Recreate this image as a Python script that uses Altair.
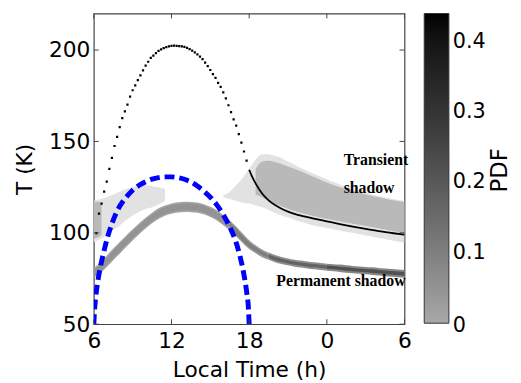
import altair as alt
import pandas as pd

# ---------------- data ----------------
x_ticks = [6, 12, 18, 24, 30]
y_ticks = [50, 100, 150, 200]
pdf_ticks = [0.1, 0.2, 0.3, 0.4]
pdf_zero_label = ["0"]

# permanent-shadow PDF band (centre and half widths, K)
perm_t = [6.0, 6.5, 7.0, 7.5, 8.0, 8.5, 9.0, 9.5, 10.0, 10.5, 11.0, 11.5, 12.0, 12.5, 13.0, 13.5,
          14.0, 14.5, 15.0, 15.5, 16.0, 16.5, 17.0, 17.5, 18.0, 18.5, 19.0, 19.5, 20.0, 20.5, 21.0, 21.5,
          22.0, 22.5, 23.0, 23.5, 24.0, 24.5, 25.0, 25.5, 26.0, 26.5, 27.0, 27.5, 28.0, 28.5, 29.0, 29.5, 30.0]
perm_mid = [78.0, 80.8, 84.4, 88.2, 91.8, 95.4, 98.9, 102.2, 105.3, 108.1, 110.5, 112.2, 113.3, 113.9, 114.2, 114.1,
            113.8, 112.9, 111.4, 109.5, 107.0, 104.1, 100.7, 97.0, 93.5, 91.0, 88.8, 87.2, 85.9, 84.9, 84.1, 83.4,
            82.9, 82.4, 82.0, 81.6, 81.2, 80.9, 80.6, 80.2, 79.9, 79.6, 79.3, 79.0, 78.7, 78.4, 78.1, 77.8, 77.5]
perm_outer_hw = [2.7, 2.9, 3.1, 3.2, 3.2, 3.2, 3.1, 3.0, 3.0, 2.9, 2.9, 2.8, 2.8, 2.8, 2.8, 2.8,
                 2.8, 2.8, 2.8, 2.8, 2.8, 2.8, 2.7, 2.6, 2.4, 2.2, 2.1, 2.0, 2.0, 1.9, 1.9, 1.9,
                 1.9, 1.9, 1.9, 1.9, 1.9, 1.9, 2.0, 2.0, 2.0, 2.0, 2.0, 2.1, 2.1, 2.1, 2.1, 2.1, 2.1]
perm_core_hw = [1.8, 1.9, 2.0, 2.1, 2.1, 2.1, 2.0, 2.0, 2.0, 1.9, 1.9, 1.9, 1.9, 1.9, 1.9, 1.9,
                1.9, 1.9, 1.9, 1.9, 1.9, 1.8, 1.7, 1.6, 1.4, 1.2, 1.1, 1.0, 1.0, 0.9, 0.9, 0.9,
                0.9, 0.9, 0.9, 0.9, 0.9, 0.9, 0.9, 0.9, 0.9, 0.9, 0.9, 1.0, 1.0, 1.0, 1.0, 1.0, 1.0]
perm_seg_start = [6.0, 16.5, 19.5, 24.0]
perm_seg_end = [16.5, 19.5, 24.0, 30.0]
perm_pdf_outer = [0.01, 0.03, 0.06, 0.08]
perm_pdf_core = [0.05, 0.10, 0.17, 0.22]

# transient-shadow PDF: morning block
tm_dense_t = [6.0, 6.3, 6.6]
tm_dense_lo = [97.0, 97.5, 99.0]
tm_dense_hi = [117.0, 117.0, 116.5]
tm_sparse_t = [6.0, 6.5, 7.0, 7.5, 8.0, 8.5, 9.0, 9.5, 10.0, 10.5, 11.0, 11.5]
tm_sparse_lo = [95.0, 96.5, 99.0, 101.5, 104.0, 107.0, 109.5, 111.5, 113.0, 114.0, 115.5, 117.5]
tm_sparse_hi = [117.5, 118.5, 119.5, 121.0, 122.5, 124.0, 125.0, 126.0, 126.0, 125.5, 125.0, 124.0]

# transient-shadow PDF: evening / night
tn_sparse_t = [16.0, 16.5, 17.0, 17.5, 18.0, 18.5, 19.0, 19.5, 20.0, 20.5, 21.0, 21.5, 22.0, 22.5, 23.0,
               23.5, 24.0, 24.5, 25.0, 25.5, 26.0, 26.5, 27.0, 27.5, 28.0, 28.5, 29.0, 29.5, 30.0]
tn_sparse_lo = [119.5, 118.5, 117.5, 116.5, 116.0, 115.0, 114.0, 112.5, 111.0, 109.5, 108.5, 107.0, 106.0, 105.0, 104.0,
                103.3, 102.6, 102.0, 101.3, 100.6, 100.0, 99.3, 98.6, 98.0, 97.3, 96.6, 95.9, 95.2, 94.5]
tn_sparse_hi = [120.5, 122.5, 126.0, 130.0, 135.0, 140.0, 143.0, 143.0, 142.0, 141.0, 139.0, 137.3, 135.5, 133.8, 132.3,
                130.8, 129.3, 127.8, 126.4, 125.1, 124.0, 123.0, 122.0, 121.0, 120.2, 119.4, 118.7, 118.0, 117.5]
tn_dense_t = [18.5, 19.0, 19.5, 20.0, 20.5, 21.0, 21.5, 22.0, 22.5, 23.0, 23.5, 24.0,
              24.5, 25.0, 25.5, 26.0, 26.5, 27.0, 27.5, 28.0, 28.5, 29.0, 29.5, 30.0]
tn_dense_lo = [121.0, 119.5, 117.5, 116.0, 114.5, 113.2, 112.0, 111.0, 110.0, 109.2, 108.4, 107.7,
               107.0, 106.3, 105.6, 105.0, 104.4, 103.8, 103.2, 102.5, 101.8, 101.1, 100.4, 99.7]
tn_dense_hi = [135.0, 139.0, 139.5, 138.8, 137.6, 136.3, 135.0, 133.5, 132.0, 130.5, 129.0, 127.5,
               126.2, 125.0, 124.0, 123.0, 122.0, 121.0, 120.2, 119.4, 118.7, 118.0, 117.4, 117.0]

# sunlit curve (black dots by day, dense line at night)
day_t = [6.2, 6.4, 6.6, 6.8, 7.0, 7.2, 7.4, 7.6, 7.8, 8.0, 8.2, 8.4, 8.6, 8.8, 9.0, 9.2, 9.4, 9.6, 9.8, 10.0,
         10.2, 10.4, 10.6, 10.8, 11.0, 11.2, 11.4, 11.6, 11.8, 12.0, 12.2, 12.4, 12.6, 12.8, 13.0, 13.2, 13.4,
         13.6, 13.8, 14.0, 14.2, 14.4, 14.6, 14.8, 15.0, 15.2, 15.4, 15.6, 15.8, 16.0, 16.2, 16.4, 16.6, 16.8,
         17.0, 17.2, 17.4, 17.6, 17.8]
day_T = [99.8, 110.5, 116.0, 122.5, 128.0, 135.0, 141.0, 147.5, 152.5, 157.8, 162.8, 166.5, 170.2, 174.5, 178.0,
         180.7, 183.6, 186.2, 188.9, 191.5, 193.6, 195.7, 197.0, 198.3, 199.5, 200.4, 201.1, 201.6, 202.0, 202.3,
         202.4, 202.3, 202.2, 202.0, 201.7, 201.2, 200.5, 199.7, 198.7, 197.6, 196.4, 195.0, 193.1, 191.2, 189.1,
         186.8, 184.8, 182.0, 179.9, 176.9, 173.6, 169.8, 166.0, 162.1, 158.6, 154.0, 149.4, 144.5, 139.5]
night_t = [18.0, 18.2, 18.6, 19.0, 19.5, 20.0, 20.5, 21.0, 21.5, 22.0, 22.5, 23.0, 24.0, 25.0, 26.0, 27.0, 28.0, 29.0, 30.0]
night_T = [134.5, 131.2, 125.8, 121.5, 117.8, 115.2, 113.2, 111.6, 110.4, 109.4, 108.6, 107.8, 106.3, 104.8, 103.4,
           102.1, 100.9, 99.9, 99.0]

# blue dashed curve
blue_t = [6.0, 6.05, 6.15, 6.3, 6.5, 6.75, 7.0, 7.5, 8.0, 8.5, 9.0, 9.5, 10.0, 10.5, 11.0, 11.5, 12.0, 12.5,
          13.0, 13.5, 14.0, 14.5, 15.0, 15.5, 16.0, 16.5, 17.0, 17.3, 17.6, 17.8, 17.95, 18.0]
blue_T = [50.0, 57.0, 65.0, 73.0, 81.0, 89.0, 96.0, 107.0, 114.5, 119.5, 123.3, 126.0, 128.0, 129.4, 130.2, 130.6,
          130.6, 130.2, 129.3, 127.8, 125.6, 122.8, 119.5, 115.3, 110.0, 103.2, 94.5, 87.0, 77.0, 68.0, 58.0, 50.0]

ann_text = ["Transient", "shadow", "Permanent shadow"]
ann_t = [25.3, 25.3, 20.1]
ann_T = [136.9, 121.8, 71.0]

# ---------------- tables ----------------
perm_rows = []
for s, e, po, pc, k in zip(perm_seg_start, perm_seg_end, perm_pdf_outer, perm_pdf_core, range(4)):
    for t, m, ho, hc in zip(perm_t, perm_mid, perm_outer_hw, perm_core_hw):
        if s <= t <= e:
            perm_rows.append(dict(t=t, lo=m - ho, hi=m + ho, pdf=po, seg=f"o{k}", layer=0))
            perm_rows.append(dict(t=t, lo=m - hc, hi=m + hc, pdf=pc, seg=f"c{k}", layer=1))
perm_df = pd.DataFrame(perm_rows)

sparse_df = pd.DataFrame(
    [dict(t=t, lo=l, hi=h, seg="m") for t, l, h in zip(tm_sparse_t, tm_sparse_lo, tm_sparse_hi)]
    + [dict(t=t, lo=l, hi=h, seg="n") for t, l, h in zip(tn_sparse_t, tn_sparse_lo, tn_sparse_hi)])
dense_df = pd.DataFrame(
    [dict(t=t, lo=l, hi=h, seg="m") for t, l, h in zip(tm_dense_t, tm_dense_lo, tm_dense_hi)]
    + [dict(t=t, lo=l, hi=h, seg="n") for t, l, h in zip(tn_dense_t, tn_dense_lo, tn_dense_hi)])
day_df = pd.DataFrame({"t": day_t, "T": day_T})
night_df = pd.DataFrame({"t": night_t, "T": night_T})
blue_df = pd.DataFrame({"t": blue_t, "T": blue_T})
ann_df = pd.DataFrame({"t": ann_t, "T": ann_T, "label": ann_text})
xt_df = pd.DataFrame({"v": x_ticks})
yt_df = pd.DataFrame({"v": y_ticks})

# ---------------- scales / axes ----------------
FONT = "DejaVu Sans"
xs = alt.Scale(domain=[6, 30], nice=False, zero=False)
ys = alt.Scale(domain=[50, 220], nice=False, zero=False)
xa = alt.Axis(title="Local Time (h)", values=x_ticks, labelExpr="'' + (datum.value % 24)", ticks=False,
              domain=False, grid=False, labelFlush=False, labelOverlap=False, labelPadding=7,
              labelFontSize=22, titleFontSize=22, titlePadding=8, labelFont=FONT, titleFont=FONT,
              titleFontWeight="normal", labelColor="black", titleColor="black")
ya = alt.Axis(title="T (K)", values=y_ticks, ticks=False, domain=False, grid=False, labelFlush=False,
              labelOverlap=False, labelPadding=4, labelFontSize=22, titleFontSize=22, titlePadding=12,
              labelFont=FONT, titleFont=FONT, titleFontWeight="normal", labelColor="black", titleColor="black")
color = alt.Color("pdf:Q",
                  scale=alt.Scale(domain=[0, 0.44], range=["#a8a8a8", "#000000"]),
                  legend=alt.Legend(orient="none", legendX=335, legendY=0, direction="vertical",
                                    gradientLength=314, gradientThickness=25, title=None, values=pdf_ticks,
                                    labelFontSize=21, labelFont=FONT, labelColor="black", labelOffset=4,
                                    format=".1~f", padding=0,
                                    gradientStrokeColor="#333333", gradientStrokeWidth=1))

X = alt.X("t:Q", scale=xs, axis=xa)

perm_outer = alt.Chart(perm_df[perm_df.layer == 0]).mark_area(interpolate="monotone", clip=True).encode(
    x=X, y=alt.Y("lo:Q", scale=ys, axis=ya), y2="hi:Q", color=color, detail="seg:N")
perm_core = alt.Chart(perm_df[perm_df.layer == 1]).mark_area(interpolate="monotone", clip=True).encode(
    x=X, y=alt.Y("lo:Q", scale=ys, axis=ya), y2="hi:Q", color=color, detail="seg:N")
sparse = alt.Chart(sparse_df).mark_area(interpolate="monotone", clip=True).encode(
    x=X, y=alt.Y("lo:Q", scale=ys, axis=ya), y2="hi:Q", color=alt.value("#e2e2e2"), detail="seg:N")
dense = alt.Chart(dense_df).mark_area(interpolate="monotone", clip=True).encode(
    x=X, y=alt.Y("lo:Q", scale=ys, axis=ya), y2="hi:Q", color=alt.value("#b9b9b9"), detail="seg:N")

dots = alt.Chart(day_df).mark_square(size=5, color="black", opacity=1, clip=True).encode(
    x=X, y=alt.Y("T:Q", scale=ys, axis=ya))
night = alt.Chart(night_df).mark_line(color="black", strokeWidth=1.8, interpolate="monotone", clip=True).encode(
    x=X, y=alt.Y("T:Q", scale=ys, axis=ya))
blue = alt.Chart(blue_df).mark_line(color="#0000ff", strokeWidth=5, strokeDash=[10, 5],
                                    interpolate="monotone", clip=True).encode(
    x=X, y=alt.Y("T:Q", scale=ys, axis=ya))

tick_style = dict(color="#444444", strokeWidth=1)
tb = alt.Chart(xt_df).mark_rule(**tick_style).encode(x=alt.X("v:Q", scale=xs, axis=xa),
                                                     y=alt.value(315), y2=alt.value(310))
tt = alt.Chart(xt_df).mark_rule(**tick_style).encode(x=alt.X("v:Q", scale=xs, axis=xa),
                                                     y=alt.value(0), y2=alt.value(5))
tl = alt.Chart(yt_df).mark_rule(**tick_style).encode(y=alt.Y("v:Q", scale=ys, axis=ya),
                                                     x=alt.value(0), x2=alt.value(5))
tr = alt.Chart(yt_df).mark_rule(**tick_style).encode(y=alt.Y("v:Q", scale=ys, axis=ya),
                                                     x=alt.value(315), x2=alt.value(310))

ann = alt.Chart(ann_df).mark_text(font="Liberation Serif", fontWeight="bold", fontSize=16, align="left",
                                  baseline="alphabetic", color="black").encode(
    x=X, y=alt.Y("T:Q", scale=ys, axis=ya), text="label:N")

pdf_title = alt.Chart(pd.DataFrame({"label": ["PDF"]})).mark_text(
    font=FONT, fontSize=23, angle=270, align="center", baseline="middle", color="black").encode(
    x=alt.value(412), y=alt.value(159), text="label:N")
pdf_zero = alt.Chart(pd.DataFrame({"label": pdf_zero_label})).mark_text(
    font=FONT, fontSize=21, align="left", baseline="middle", color="black").encode(
    x=alt.value(364), y=alt.value(317), text="label:N")

chart = alt.layer(perm_outer, sparse, dense, perm_core, dots, night, blue, tb, tt, tl, tr, ann,
                  pdf_title, pdf_zero).properties(
    width=315, height=315,
    padding={"left": 87, "top": 3, "right": 110, "bottom": 55},
    autosize=alt.AutoSizeParams(type="none"),
).configure_view(stroke="#444444", strokeWidth=1.2)

chart.save("out.html", embed_options={"renderer": "svg", "actions": False})
